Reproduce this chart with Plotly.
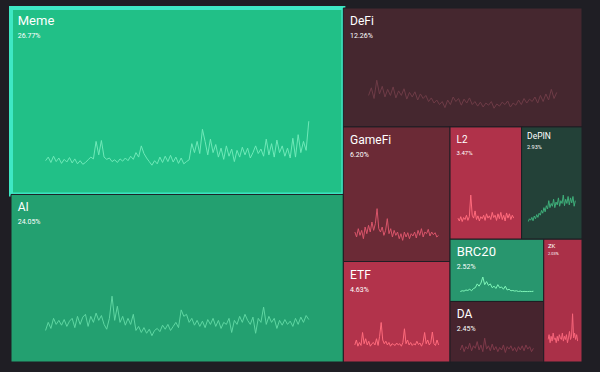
import plotly.graph_objects as go

# ---------------- data ----------------
categories = ["Meme", "AI", "DeFi", "GameFi", "ETF", "L2", "DePIN", "BRC20", "DA", "ZK"]
shares = [26.77, 24.05, 12.26, 6.20, 4.63, 3.47, 2.93, 2.52, 2.45, 2.03]
share_labels = ["26.77%", "24.05%", "12.26%", "6.20%", "4.63%", "3.47%", "2.93%", "2.52%", "2.45%", "2.03%"]

spark_meme = [0.12, 0.20, 0.08, 0.22, 0.10, 0.18, 0.06, 0.15, 0.09, 0.19, 0.07, 0.16, 0.05, 0.12, 0.04, 0.08, 0.14, 0.20, 0.16, 0.55,
              0.25, 0.57, 0.20, 0.15, 0.18, 0.10, 0.14, 0.08, 0.16, 0.11, 0.18, 0.12, 0.22, 0.15, 0.30, 0.20, 0.45, 0.28, 0.18, 0.10, 0.02,
              0.12, 0.05, 0.20, 0.08, 0.22, 0.10, 0.24, 0.09, 0.20, 0.06, 0.18, 0.05, 0.10, 0.14,
              0.50, 0.30, 0.55, 0.28, 0.82, 0.55, 0.25, 0.60, 0.30, 0.48, 0.20, 0.40, 0.15, 0.45, 0.22, 0.38, 0.10, 0.35, 0.20, 0.42,
              0.25, 0.40, 0.18, 0.30, 0.45, 0.28, 0.38, 0.22, 0.60, 0.25, 0.50, 0.20, 0.58, 0.30, 0.45, 0.22, 0.40, 0.18, 0.62, 0.20,
              0.70, 0.30, 0.55, 0.35, 1.0]
spark_ai = [0.15, 0.35, 0.20, 0.45, 0.30, 0.40, 0.28, 0.42, 0.25, 0.38, 0.45, 0.22, 0.50, 0.30, 0.48, 0.55, 0.25, 0.50, 0.35, 0.58,
            0.40, 0.52, 0.30, 0.18, 0.45,
            1.0, 0.40, 0.75, 0.35, 0.50, 0.28, 0.45, 0.30, 0.55, 0.15,
            0.25, 0.10, 0.22, 0.08, 0.18, 0.02, 0.15, 0.20, 0.12, 0.28, 0.18, 0.30, 0.15, 0.25, 0.35, 0.22,
            0.66, 0.50, 0.55, 0.35, 0.45, 0.28, 0.40, 0.25, 0.38, 0.22, 0.42, 0.30, 0.45, 0.25, 0.40, 0.20, 0.35, 0.30, 0.45, 0.10,
            0.40, 0.30, 0.50, 0.35, 0.55, 0.40, 0.30, 0.48, 0.08, 0.45, 0.35, 0.73, 0.30, 0.50, 0.35, 0.45, 0.20, 0.40, 0.28, 0.42,
            0.30, 0.38, 0.25, 0.45, 0.30, 0.48, 0.35, 0.52, 0.42]
spark_defi = [0.50, 0.75, 0.40, 1.0, 0.55, 0.80, 0.45, 0.70, 0.50, 0.78, 0.42, 0.65, 0.50, 0.72, 0.38, 0.60, 0.45, 0.62, 0.35, 0.55,
              0.40, 0.50, 0.30, 0.42, 0.25, 0.35, 0.20, 0.30, 0.10, 0.35, 0.20, 0.45, 0.30, 0.40, 0.18, 0.38, 0.25, 0.42, 0.20, 0.30,
              0.15, 0.28, 0.12, 0.25, 0.18, 0.30, 0.08, 0.22, 0.15, 0.28, 0.20, 0.32, 0.12, 0.25, 0.18, 0.35, 0.20, 0.40, 0.25, 0.38,
              0.30, 0.45, 0.25, 0.50, 0.30, 0.55, 0.35, 0.70, 0.40, 0.60]
spark_gamefi = [0.30, 0.15, 0.40, 0.20, 0.35, 0.10, 0.45, 0.25, 0.50, 0.30, 0.60, 0.35, 0.55, 1.0, 0.40, 0.30, 0.45, 0.20, 0.35, 0.70,
                0.25, 0.40, 0.15, 0.35, 0.20, 0.30, 0.10, 0.25, 0.05, 0.30, 0.15, 0.28, 0.10, 0.25, 0.18, 0.30, 0.12, 0.35, 0.20, 0.40,
                0.15, 0.30, 0.25, 0.38, 0.18, 0.30, 0.22, 0.28, 0.15, 0.20]
spark_etf = [0.10, 0.30, 0.05, 0.20, 0.08, 0.60, 0.15, 0.35, 0.10, 0.25, 0.05, 0.15, 0.20, 0.10, 0.35, 0.08, 0.45, 1.0, 0.30, 0.15,
             0.25, 0.10, 0.20, 0.05, 0.15, 0.12, 0.08, 0.18, 0.10, 0.15, 0.05, 0.20, 0.75, 0.15, 0.30, 0.10, 0.20, 0.08, 0.15, 0.10,
             0.25, 0.12, 0.18, 0.05, 0.20, 0.60, 0.15, 0.30, 0.10, 0.20, 0.62, 0.15, 0.08, 0.30, 0.10]
spark_l2 = [0.20, 0.10, 0.25, 0.08, 0.22, 0.15, 0.30, 0.12, 0.25, 1.0, 0.30, 0.20, 0.45, 0.15, 0.28, 0.10, 0.25, 0.18, 0.30, 0.12,
            0.35, 0.20, 0.28, 0.15, 0.40, 0.22, 0.30, 0.12, 0.35, 0.18, 0.40, 0.15, 0.30, 0.10, 0.38, 0.20, 0.35, 0.15, 0.30, 0.20]
spark_depin = [0.05, 0.15, 0.10, 0.20, 0.08, 0.25, 0.15, 0.30, 0.20, 0.35, 0.28, 0.45, 0.35, 0.55, 0.40, 0.62, 0.50, 0.80, 0.55, 0.70,
               0.60, 0.85, 0.55, 0.75, 0.65, 0.90, 0.60, 0.80, 0.70, 1.0, 0.62, 0.85, 0.70, 0.95, 0.65, 0.90, 0.72, 0.95, 0.60, 0.80]
spark_brc20 = [0.05, 0.10, 0.08, 0.15, 0.12, 0.20, 0.10, 0.25, 0.30, 0.55, 0.40, 0.60, 1.0, 0.50, 0.70, 0.45, 0.55, 0.30, 0.40, 0.25,
               0.50, 0.30, 0.35, 0.20, 0.40, 0.15, 0.20, 0.10, 0.12, 0.08, 0.10, 0.05, 0.08, 0.04, 0.06, 0.05, 0.04, 0.06, 0.05, 0.07]
spark_da = [0.30, 0.60, 0.20, 0.50, 0.35, 0.70, 0.25, 0.55, 0.40, 0.80, 0.30, 0.60, 0.20, 1.0, 0.35, 0.55, 0.25, 0.65, 0.30, 0.50,
            0.20, 0.45, 0.30, 0.60, 0.15, 0.50, 0.35, 0.55, 0.25, 0.45, 0.20, 0.50, 0.30, 0.55, 0.25, 0.60, 0.35, 0.50, 0.20, 0.40]
spark_zk = [0.20, 0.35, 0.10, 0.30, 0.15, 0.40, 0.20, 0.25, 0.10, 0.30, 0.15, 0.35, 0.25, 0.20, 0.40, 0.15, 0.30, 0.20, 0.35, 0.10,
            0.25, 0.45, 0.20, 0.30, 1.0, 0.25, 0.40, 0.20, 0.35, 0.15]

sparks = [spark_meme, spark_ai, spark_defi, spark_gamefi, spark_etf, spark_l2, spark_depin, spark_brc20, spark_da, spark_zk]

# ---------------- styles ----------------
BG = "#1f1e24"
tile_colors = ["#21c087", "#23a070", "#45272f", "#6b2a36", "#b2334b", "#b0324a", "#234138", "#28966e", "#46242e", "#aa3048"]
spark_colors = ["#6fe8b8", "#5fd6a2", "#6e3c47", "#d9556a", "#ff6b7c", "#ff6b7c", "#3fae7a", "#7ff5b8", "#7e3a4a", "#f7657a"]
border_colors = ["#3ee8c4"] + [BG] * 9
border_widths = [4] + [1] * 9
label_sizes = [13, 12, 12, 12, 12, 10, 8.5, 13, 12, 6]
pct_sizes = [7, 7, 7, 7, 7, 6, 5.5, 7, 7, 4]
base_sizes = [10, 10, 10, 10, 10, 9, 7.5, 10, 10, 5]
lead_sizes = [15, 15, 15, 15, 15, 14, 10, 15, 15, 5]

W, H = 600, 372
ML, MR, MT, MB = 11, 18, 8, 10
PW, PH = W - ML - MR, H - MT - MB


def squarify(values, x0, y0, x1, y1, ratio=1.0):
    rects = [None] * len(values)
    n = len(values)
    value = float(sum(values))
    i0 = 0
    while i0 < n:
        dx, dy = x1 - x0, y1 - y0
        i1 = i0
        sumv = values[i1]
        i1 += 1
        minv = maxv = sumv
        alpha = max(dy / dx, dx / dy) / (value * ratio)
        beta = sumv * sumv * alpha
        minr = max(maxv / beta, beta / minv)
        while i1 < n:
            nv = values[i1]
            sumv += nv
            minv, maxv = min(minv, nv), max(maxv, nv)
            beta = sumv * sumv * alpha
            nr = max(maxv / beta, beta / minv)
            if nr > minr:
                sumv -= nv
                break
            minr = nr
            i1 += 1
        if dx < dy:
            ny = y0 + dy * sumv / value
            xx = x0
            for k in range(i0, i1):
                w = dx * values[k] / sumv
                rects[k] = (xx, y0, xx + w, ny)
                xx += w
            y0 = ny
        else:
            nx = x0 + dx * sumv / value
            yy = y0
            for k in range(i0, i1):
                h = dy * values[k] / sumv
                rects[k] = (x0, yy, nx, yy + h)
                yy += h
            x0 = nx
        value -= sumv
        i0 = i1
    return rects


rects = squarify(shares, 0, 0, PW, PH)

texts = [
    f"<span style='font-size:{lz}px'>\u00a0</span><span style='font-size:{ls}px'>{c}</span><br>"
    f"<span style='font-size:{lz}px'>\u00a0</span><span style='font-size:{ps}px'>{p}</span>"
    for c, p, ls, ps, lz in zip(categories, share_labels, label_sizes, pct_sizes, lead_sizes)
]

fig = go.Figure()

layout_axes = {}
shapes = []
for i, (vals, rc, col) in enumerate(zip(sparks, rects, spark_colors)):
    x0, y0, x1, y1 = rc
    w, h = x1 - x0, y1 - y0
    xd = [(x0 + 0.10 * w) / PW, (x0 + 0.90 * w) / PW]
    yd = [1 - (y1 - 0.15 * h) / PH, 1 - (y1 - 0.40 * h) / PH]
    k = i + 1
    xa = "x" if k == 1 else f"x{k}"
    ya = "y" if k == 1 else f"y{k}"
    xs = list(range(len(vals)))
    fig.add_trace(go.Scatter(x=xs, y=vals, mode="lines",
                             line=dict(color=col, width=1), xaxis=xa, yaxis=ya,
                             hoverinfo="skip", showlegend=False))
    xn = "xaxis" if k == 1 else f"xaxis{k}"
    yn = "yaxis" if k == 1 else f"yaxis{k}"
    vmin, vmax = min(vals), max(vals)
    padv = (vmax - vmin) * 0.03
    layout_axes[xn] = dict(domain=xd, visible=False, range=[-0.5, len(vals) - 0.5], fixedrange=True, anchor=ya)
    layout_axes[yn] = dict(domain=yd, visible=False, range=[vmin - padv, vmax + padv], fixedrange=True, anchor=xa)
    # the sparkline is re-drawn as a path in the same axes so it sits above the treemap layer
    path = "M " + " L ".join(f"{x},{y}" for x, y in zip(xs, vals))
    shapes.append(dict(type="path", path=path, xref=xa, yref=ya, layer="above",
                       line=dict(color=col, width=1)))

fig.add_trace(go.Treemap(
    labels=categories,
    parents=[""] * len(categories),
    values=shares,
    sort=True,
    texttemplate=texts,
    textposition="top left",
    textfont=dict(color="white", size=base_sizes, family="Roboto, Inter, sans-serif"),
    marker=dict(colors=tile_colors, line=dict(color=border_colors, width=border_widths),
                pad=dict(t=0, l=0, r=0, b=0)),
    tiling=dict(packing="squarify", pad=0),
    pathbar=dict(visible=False),
    root=dict(color=BG),
    hoverinfo="skip",
    domain=dict(x=[0, 1], y=[0, 1]),
))

fig.update_layout(
    width=W, height=H,
    margin=dict(l=ML, r=MR, t=MT, b=MB),
    paper_bgcolor=BG, plot_bgcolor="rgba(0,0,0,0)",
    showlegend=False,
    shapes=shapes,
    **layout_axes,
)

fig.write_html("out.html", config={"displayModeBar": False},
               post_script="document.body.style.margin='0';document.body.style.background='#1f1e24';")
